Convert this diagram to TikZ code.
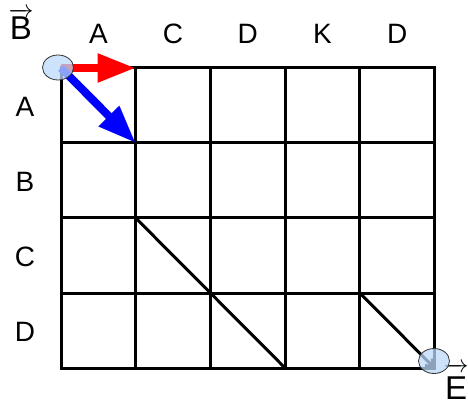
\documentclass[tikz,border=0pt]{standalone}
\usepackage{amsmath}
\usepackage{fontspec}
\setmainfont{Liberation Sans}
\usepackage{tikz}
\definecolor{spotblue}{RGB}{188,216,250}
\tikzset{
  gridline/.style={line width=3pt, line cap=rect},
  hdr/.style={font=\fontsize{28}{32}\selectfont, inner sep=0pt},
  veclabel/.style={font=\fontsize{33}{36}\selectfont, inner sep=0pt, anchor=base},
  spot/.style={ellipse, draw=black!80, line width=0.8pt, fill=spotblue,
               fill opacity=0.75, minimum width=31pt, minimum height=25pt, inner sep=0pt},
  bigarrow/.style={line width=8pt, -{Triangle[length=38pt, width=27pt]}},
  diag/.style={line width=3pt}
}
\usetikzlibrary{
  positioning, shapes.geometric, arrows.meta
}
\newcommand{\arrowlabel}[2]{$\overrightarrow{\rule{0pt}{#2}\text{#1}}$}

\begin{document}
\begin{tikzpicture}[x=1pt, y=-1pt]
    \useasboundingbox (0,0) rectangle (468,403);
    % grid points
    \foreach \i in {0,...,5}
      \foreach \j in {0,...,4}
        \coordinate (g-\i-\j) at ({61+74.7*\i},{68+75*\j});

    \foreach \i in {0,...,5}
      \draw[gridline] (g-\i-0) -- (g-\i-4);
    \foreach \j in {0,...,4}
      \draw[gridline] (g-0-\j) -- (g-5-\j);

    % headers
    \foreach \l [count=\i] in {A,C,D,K,D}
      \node[hdr] (top-\i) at ({61+74.7*(\i-0.5)},34) {\l};
    \foreach \l [count=\j] in {A,B,C,D}
      \node[hdr] (side-\j) at (25,{69+75*(\j-0.5)}) {\l};

    \node[veclabel] (bvec) at (21,40) {\arrowlabel{B}{22pt}};
    \node[veclabel] (evec) at (456,399) {\arrowlabel{E}{27pt}};

    % path
    \draw[diag] (g-1-2) -- (g-2-3);
    \draw[diag] (g-2-3) -- (g-3-4);
    \draw[diag, -{Straight Barb[length=6pt, width=10pt]}] (g-4-3) -- (g-5-4);

    \draw[bigarrow, red] (g-0-0) -- (g-1-0);
    \draw[bigarrow, blue] (g-0-0) -- (g-1-1);

    \node[spot] (start) at (58,67.5) {};
    \node[spot] (goal) at (434,361) {};
\end{tikzpicture}
\end{document}
